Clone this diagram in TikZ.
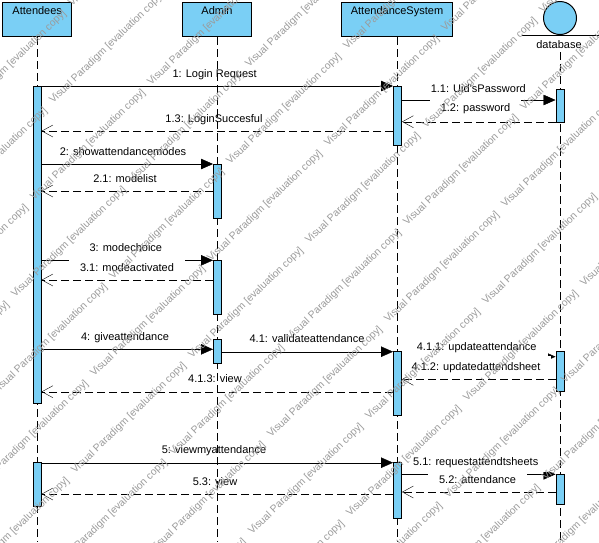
\documentclass[tikz,border=0pt]{standalone}
\usepackage{fontspec}
\setmainfont{Liberation Sans}
\usetikzlibrary{arrows.meta}
\definecolor{vpblue}{RGB}{122,207,245}
\definecolor{wmgray}{RGB}{155,155,155}
\pgfdeclarelayer{msgs}
\pgfdeclarelayer{lifelines}
\pgfdeclarelayer{wm}
\pgfsetlayers{msgs,lifelines,main,wm}
\begin{document}
\begin{tikzpicture}[x=1pt,y=-1pt,line width=1pt,
  every node/.style={font=\fontsize{11pt}{13pt}\selectfont},
  lifebox/.style={draw=black,fill=vpblue,inner sep=0pt,minimum height=34pt},
  bar/.style={draw=black,fill=vpblue,inner sep=0pt,minimum width=8pt},
  lifeline/.style={dash pattern=on 8pt off 4pt},
  call/.style={-{Triangle[length=12pt,width=10.5pt]}},
  ret/.style={dash pattern=on 8pt off 4pt,-{Straight Barb[length=11pt,width=12pt]}},
  lbl/.style={fill=white,inner xsep=11pt,inner ysep=4pt,text height=11pt,text depth=2.5pt,anchor=base},
  wmark/.style={font=\fontsize{10.3pt}{12pt}\selectfont,text=wmgray,anchor=base west,inner sep=0pt}
]
\useasboundingbox (0,0) rectangle (599,542);

% heads
\node[lifebox,minimum width=69pt] (A) at (37.2,19.7) {};
\node[anchor=base] (At) at (37.2,14) {Attendees};
\node[lifebox,minimum width=68.6pt] (B) at (217,19.7) {};
\node[anchor=base] (Bt) at (217,14) {Admin};
\node[lifebox,minimum width=110.6pt] (C) at (397,19.7) {};
\node[anchor=base] (Ct) at (397,14) {AttendanceSystem};
\node[circle,draw=black,fill=vpblue,minimum size=33pt,inner sep=0pt] (D) at (560,18) {};
\coordinate (DL) at (522,35);
\coordinate (DR) at (599,35);
\draw (DL) -- (DR);
\node[anchor=base] (Dt) at (559,48.3) {database};
\coordinate (Dtop) at (560,52);

% activation bars
\node[bar,minimum height=317pt] (a1) at (37,244.5) {};
\node[bar,minimum height=43.3pt] (a2) at (37,484.35) {};
\node[bar,minimum height=54pt] (b1) at (217.5,191) {};
\node[bar,minimum height=53.7pt] (b2) at (217.5,287.15) {};
\node[bar,minimum height=24pt] (b3) at (217.5,351.3) {};
\node[bar,minimum height=59pt] (c1) at (397.5,115.5) {};
\node[bar,minimum height=63.3pt] (c2) at (397.5,383.35) {};
\node[bar,minimum height=55.6pt] (c3) at (397.5,490.5) {};
\node[bar,minimum height=33pt] (d1) at (560,105.5) {};
\node[bar,minimum height=39.3pt] (d2) at (560,371.35) {};
\node[bar,minimum height=29.7pt] (d3) at (560,489.15) {};

% lifelines
\begin{pgfonlayer}{lifelines}
\draw[lifeline] (A.south) -- (A.south |- 0,542);
\draw[lifeline] (B.south) -- (B.south |- 0,542);
\draw[lifeline] (C.south) -- (C.south |- 0,542);
\draw[lifeline] (Dtop) -- (Dtop |- 0,542);
\end{pgfonlayer}

% messages
\begin{pgfonlayer}{msgs}
\fill[white] (0,0) rectangle (599,542);
\draw[call] (a1.east |- 0,86) -- (c1.west |- 0,86);
\draw[call] (c1.east |- 0,100) -- (d1.west |- 0,100);
\draw[ret] (d1.west |- 0,121.7) -- (c1.east |- 0,121.7);
\draw[ret] (c1.west |- 0,131) -- (a1.east |- 0,131);
\draw[call] (a1.east |- 0,164) -- (b1.west |- 0,164);
\draw[ret] (b1.west |- 0,191) -- (a1.east |- 0,191);
\draw[call] (a1.east |- 0,260.3) -- (b2.west |- 0,260.3);
\draw[ret] (b2.west |- 0,280) -- (a1.east |- 0,280);
\draw[call] (a1.east |- 0,349.3) -- (b3.west |- 0,349.3);
\draw[call] (b3.east |- 0,351.7) -- (c2.west |- 0,351.7);
\draw[call] (c2.east |- 0,356.7) -- (d2.west |- 0,356.7);
\draw[ret] (d2.west |- 0,379.3) -- (c2.east |- 0,379.3);
\draw[ret] (c2.west |- 0,391.7) -- (a1.east |- 0,391.7);
\draw[call] (a2.east |- 0,462.7) -- (c3.west |- 0,462.7);
\draw[call] (c3.east |- 0,474.3) -- (d3.west |- 0,474.3);
\draw[ret] (d3.west |- 0,492) -- (c3.east |- 0,492);
\draw[ret] (c3.west |- 0,494) -- (a2.east |- 0,494);

\node[lbl] (m1) at (214.7,77.3) {1: Login Request};
\node[lbl] (m11) at (478.3,92) {1.1: Uid'sPassword};
\node[lbl] (m12) at (475.5,111.7) {1.2: password};
\node[lbl] (m13) at (214,122) {1.3: LoginSuccesful};
\node[lbl] (m2) at (123,155.7) {2: showattendancemodes};
\node[lbl] (m21) at (125,182.7) {2.1: modelist};
\node[lbl] (m3) at (125.8,251.7) {3: modechoice};
\node[lbl] (m31) at (127,271.7) {3.1: modeactivated};
\node[lbl] (m4) at (125,340.7) {4: giveattendance};
\node[lbl] (m41) at (307,342.7) {4.1: validateattendance};
\node[lbl] (m411) at (476.7,350.7) {4.1.1: updateattendance};
\node[lbl] (m412) at (476,370.7) {4.1.2: updatedattendsheet};
\node[lbl] (m413) at (215,382.3) {4.1.3: view};
\node[lbl] (m5) at (214,453.3) {5: viewmyattendance};
\node[lbl] (m51) at (475.7,465) {5.1: requestattendtsheets};
\node[lbl] (m52) at (477.5,483.3) {5.2: attendance};
\node[lbl] (m53) at (215,485.3) {5.3: view};
\end{pgfonlayer}

% watermark (drawn in an upright, y-up system)
\begin{pgfonlayer}{wm}
\begin{scope}[x=1pt,y=1pt]
\clip (0,0) rectangle (599,-542);
\foreach \i in {-4,...,8}{
  \foreach \j in {-6,...,3}{
    \pgfmathtruncatemacro\wx{75+98*\i-19*\j}
    \pgfmathtruncatemacro\wy{474-18*\i+97*\j}
    \pgfmathtruncatemacro\wok{(\wx>-160)&&(\wx<598)&&(\wy>2)&&(\wy<660)}
    \ifnum\wok=1
      \node[wmark,rotate=44] (wm\i y\j) at (\wx,-\wy) {Visual Paradigm [evaluation copy]};
    \fi
  }
}
\end{scope}
\end{pgfonlayer}
\end{tikzpicture}
\end{document}
